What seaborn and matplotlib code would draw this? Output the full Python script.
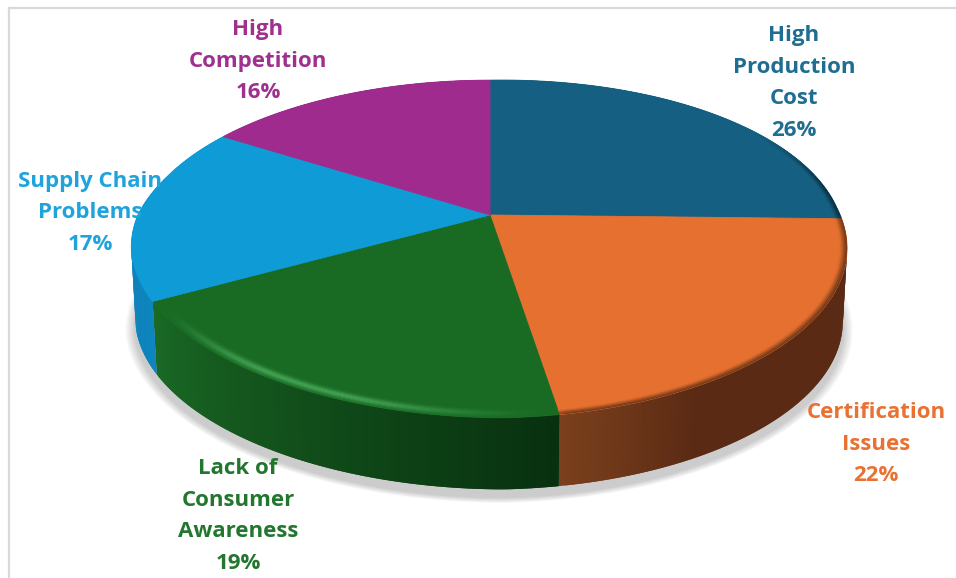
import numpy as np
import matplotlib
matplotlib.use("Agg")
import matplotlib.pyplot as plt
from matplotlib.collections import PolyCollection
from matplotlib.colors import to_rgb
from matplotlib.path import Path
from matplotlib.transforms import Transform
import seaborn as sns

categories = ["High\nProduction\nCost", "Certification\nIssues",
              "Lack of\nConsumer\nAwareness", "Supply Chain\nProblems",
              "High\nCompetition"]
shares = [26, 22, 19, 17, 16]
face_colors = ["#156082", "#E6702F", "#196B24", "#0F9BD5", "#A02B8E"]
text_colors = ["#1F6D90", "#E97132", "#22762E", "#1FA3DC", "#A0308F"]
side_start = ["#0d3d52", "#7a401c", "#1a6a25", "#0b7ab0", "#641b5c"]
side_end = ["#0d3d52", "#5a2a14", "#08300f", "#0e85bd", "#641b5c"]
rim_colors = ["#0a2c3c", "#6a3518", "#46a556", "#12b2f2", "#A02B8E"]
label_xy = [(794, 83), (876, 444), (238, 516), (90, 213), (258, 61)]

CX, CY, AX_X, AX_Y, K = 490.0, 215.0, 350.0, 162.0, 0.2012
DEPTH, SHRINK = 74.0, 0.012
SHEAR, LIFT, LEFT_GROW = 0.034, 0.04, 0.012


def project(u, v, d=0.0, grow=1.0):
    u = np.asarray(u, float)
    v = np.asarray(v, float)
    left = (u < 0) * np.clip(0.5 - 2 * v, 0, 1)
    u2 = u * (1 + LEFT_GROW * left) - SHEAR * np.minimum(v, 0)
    v2 = v + LIFT * np.maximum(u, 0)
    w = 1 + K * v2
    s = (1 - SHRINK * d) * grow
    return CX + s * AX_X * u2 / w, CY - s * AX_Y * v2 / w + DEPTH * d


class PieProjection(Transform):
    input_dims = output_dims = 2
    is_affine = False

    def transform_non_affine(self, values):
        values = np.asarray(values, float)
        x, y = project(values[:, 0], values[:, 1])
        return np.column_stack([x, y])

    def transform_path_non_affine(self, path):
        big = Path(path.vertices * 2000, path.codes)
        poly = big.to_polygons(closed_only=False)[0] / 2000
        return Path(self.transform_non_affine(poly))


def ring(theta, r=1.0):
    t = np.radians(theta)
    return r * np.cos(t), r * np.sin(t)


def mix(a, b, f):
    a, b = np.array(to_rgb(a)), np.array(to_rgb(b))
    return tuple(a + (b - a) * float(np.clip(f, 0, 1)))


def smooth(x, a, b):
    t = np.clip((x - a) / (b - a), 0, 1)
    return t * t * (3 - 2 * t)


def rim_profile(i, r):
    if i == 2:
        return float(np.exp(-((r - 0.982) / 0.012) ** 2))
    if i == 3:
        return float(smooth(r, 0.958, 0.972))
    if i in (0, 1):
        return float(smooth(r, 0.978, 1.0)) * 0.9
    return 0.0


sns.set_theme(style="white")
plt.rcParams["font.family"] = ["Open Sans", "DejaVu Sans"]
palette = sns.color_palette(face_colors)

W, H = 956, 578
fig = plt.figure(figsize=(W / 100, H / 100), dpi=100, facecolor="white")
ax = fig.add_axes([9 / W, 0, 1 - 9 / W, 1 - 8 / H])

wedges, _ = ax.pie(shares, colors=palette, startangle=90, counterclock=False,
                   frame=True, wedgeprops={"linewidth": 0.6})
ax.set_aspect("auto")
ax.set_xlim(9, W)
ax.set_ylim(H, 8)
proj = PieProjection() + ax.transData

# soft shadow below the disc
full = np.linspace(0, 360, 241)
for g in np.linspace(1.028, 1.003, 10):
    u, v = ring(full)
    x, y = project(u, v, 1.0, g)
    ax.fill(x, y + 8, color="#555555", alpha=0.03, lw=0, zorder=0.5)

radii = np.linspace(0.955, 1.0, 13)

# outer wall and bevelled rim, one slice at a time
for i, w in enumerate(wedges):
    w.set_transform(proj)
    w.set_edgecolor(palette[i])
    w.set_zorder(3)
    th = np.linspace(w.theta1, w.theta2, 90)
    span = w.theta2 - w.theta1
    walls, cols, rim_p, rim_c = [], [], [], []
    for j in range(len(th) - 1):
        a = th[j]
        b = th[min(j + 2, len(th) - 1)]   # overlap hides the seams
        t = (a - w.theta1) / span
        ua, va = ring(a)
        ub, vb = ring(b)
        walls.append([project(ua, va, 0), project(ub, vb, 0),
                      project(ub, vb, 1), project(ua, va, 1)])
        f = t / 0.25 if i == 1 else t
        cols.append(mix(side_start[i], side_end[i], f))

        mid = (a + b) / 2
        if i == 2:
            strength = float(smooth(t, 0.02, 0.4) * smooth(1 - t, 0.0, 0.45)) * 0.95
        elif i == 3:
            strength = float(smooth(mid, 160, 185))
        elif i == 1:
            strength = 1.0
        else:
            strength = float(smooth(-np.sin(np.radians(mid)), -0.6, -0.1))
        for r0, r1 in zip(radii[:-1], radii[1:]):
            ua0, va0 = ring(a, r0)
            ub0, vb0 = ring(b, r0)
            ua1, va1 = ring(a, r1)
            ub1, vb1 = ring(b, r1)
            prof = rim_profile(i, (r0 + r1) / 2) * strength
            if prof < 0.01:
                continue
            rim_p.append([project(ua0, va0), project(ub0, vb0),
                          project(ub1, vb1), project(ua1, va1)])
            rim_c.append(mix(face_colors[i], rim_colors[i], prof))
    ax.add_collection(PolyCollection(walls, facecolors=cols, edgecolors="none",
                                     zorder=2))
    if rim_p:
        ax.add_collection(PolyCollection(rim_p, facecolors=rim_c, edgecolors="none",
                                         zorder=4))

for txt, pct, c, (x, y) in zip(categories, shares, text_colors, label_xy):
    ax.text(x, y, f"{txt}\n{pct}%", color=c, ha="center", va="center",
            ma="center", fontsize=16, fontweight="bold", linespacing=1.66,
            zorder=6)

ax.set_xticks([])
ax.set_yticks([])
for name, spine in ax.spines.items():
    spine.set_visible(name in ("left", "top"))
    spine.set_color("#d9d9d9")
    spine.set_linewidth(1.6)

fig.savefig("out.png", dpi=100, facecolor="white")
